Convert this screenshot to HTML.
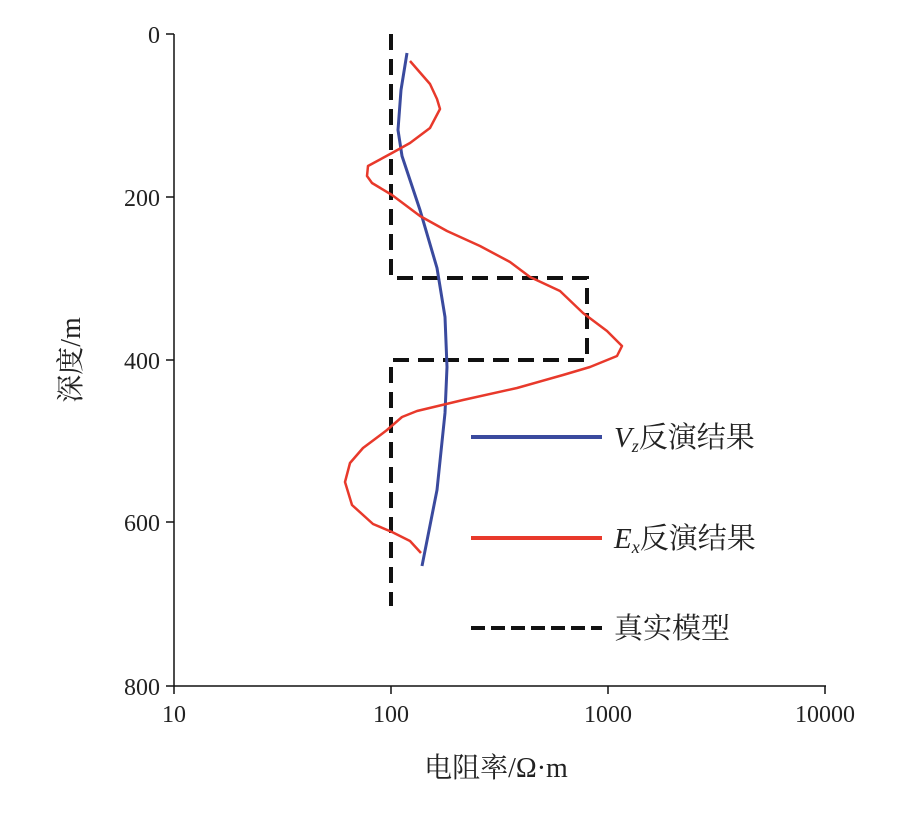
<!DOCTYPE html>
<html><head><meta charset="utf-8"><style>
html,body{margin:0;padding:0;background:#fff;}
svg text{font-family:"Liberation Serif","Noto Serif CJK SC",serif;fill:#222;}
</style></head><body>
<svg width="900" height="829" viewBox="0 0 900 829" xmlns="http://www.w3.org/2000/svg">
<g stroke="#111" stroke-width="1.5" fill="none">
<line x1="174" y1="34" x2="174" y2="686"/>
<line x1="174" y1="686" x2="826" y2="686"/>
<line x1="174" y1="34" x2="166" y2="34"/>
<line x1="174" y1="197" x2="166" y2="197"/>
<line x1="174" y1="360" x2="166" y2="360"/>
<line x1="174" y1="522" x2="166" y2="522"/>
<line x1="174" y1="686" x2="166" y2="686"/>
<line x1="174" y1="686" x2="174" y2="694"/>
<line x1="391" y1="686" x2="391" y2="694"/>
<line x1="608" y1="686" x2="608" y2="694"/>
<line x1="825" y1="686" x2="825" y2="694"/>
</g>
<g font-size="24" text-anchor="end">
<text x="160" y="43">0</text>
<text x="160" y="206">200</text>
<text x="160" y="369">400</text>
<text x="160" y="531">600</text>
<text x="160" y="695">800</text>
</g>
<g font-size="24" text-anchor="middle">
<text x="174" y="722">10</text>
<text x="391" y="722">100</text>
<text x="608" y="722">1000</text>
<text x="825" y="722">10000</text>
</g>
<text x="496" y="777" font-size="28" text-anchor="middle">电阻率/Ω·m</text>
<text transform="translate(80,360) rotate(-90)" font-size="28" text-anchor="middle">深度/m</text>
<path d="M391,34 L391,278 L587,278 L587,360 L391,360 L391,606" fill="none" stroke="#111" stroke-width="4" stroke-dasharray="16,9"/>
<polyline fill="none" stroke="#3a4a9e" stroke-width="3" stroke-linejoin="round" points="407,53 401,90 398,130 402,156 420,210 437,268 445,317 447,367 445,413 437,490 422,566"/>
<polyline fill="none" stroke="#e8392b" stroke-width="2.5" stroke-linejoin="round" points="410,61 430,84 437,99 440,109 430,128 410,143 392,153 368,166 367,176 372,183 392,195 420,216 447,231 480,246 510,262 530,277 560,291 583,313 607,331 622,346 617,356 590,367 563,375 517,388 463,400 417,411 402,417 387,430 363,448 350,463 345,482 352,505 373,524 392,532 410,541 421,553"/>
<line x1="471" y1="437" x2="602" y2="437" stroke="#3a4a9e" stroke-width="4"/>
<line x1="471" y1="538" x2="602" y2="538" stroke="#e8392b" stroke-width="4"/>
<line x1="471" y1="628" x2="602" y2="628" stroke="#111" stroke-width="4" stroke-dasharray="14,6"/>
<text x="614" y="447" font-size="29"><tspan font-style="italic">V</tspan><tspan font-style="italic" font-size="18" dy="5">z</tspan><tspan dy="-5">反演结果</tspan></text>
<text x="614" y="548" font-size="29"><tspan font-style="italic">E</tspan><tspan font-style="italic" font-size="18" dy="5">x</tspan><tspan dy="-5">反演结果</tspan></text>
<text x="614" y="638" font-size="29">真实模型</text>
</svg>
</body></html>
